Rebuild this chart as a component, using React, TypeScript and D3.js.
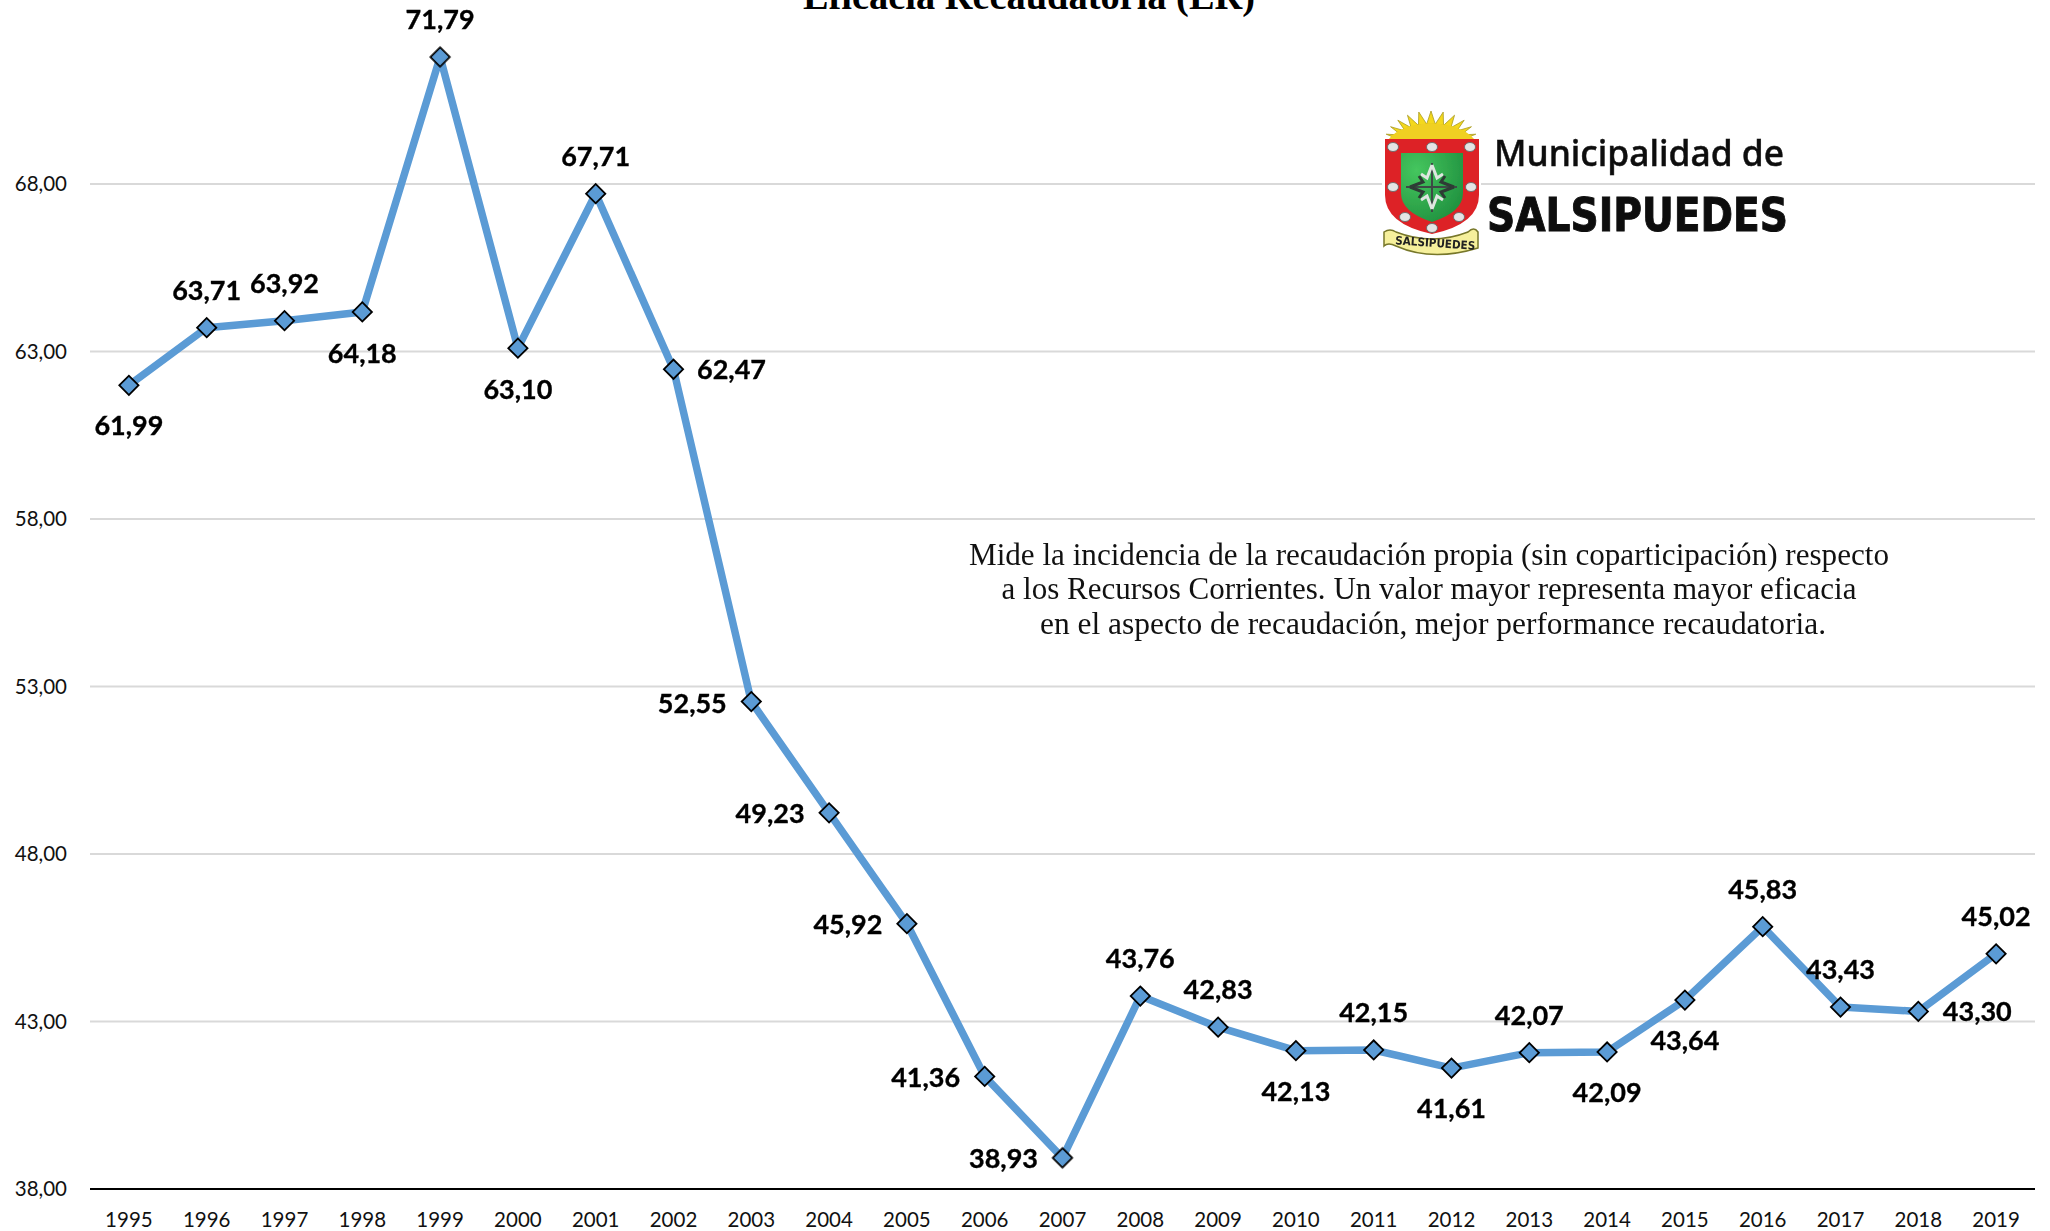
import React from "react";
import * as d3 from "d3";

const years = ["1995","1996","1997","1998","1999","2000","2001","2002","2003","2004","2005","2006","2007","2008","2009","2010","2011","2012","2013","2014","2015","2016","2017","2018","2019"];
const values = [61.99,63.71,63.92,64.18,71.79,63.10,67.71,62.47,52.55,49.23,45.92,41.36,38.93,43.76,42.83,42.13,42.15,41.61,42.07,42.09,43.64,45.83,43.43,43.30,45.02];
const yTicks = [38,43,48,53,58,63,68];
// data label offsets relative to the point (dx, dy baseline)
const labelOffsets: [number, number][] = [
  [0,50],[0,-28],[0,-28],[0,51],[0,-28],[0,51],[0,-28],[58,10],[-59,11],[-59,10],[-59,10],[-59,11],[-59,10],[0,-28],[0,-28],[0,50],[0,-28],[0,50],[0,-28],[0,50],[0,50],[0,-28],[0,-28],[59,10],[0,-28],
];
const descriptionLines = [
  "Mide la incidencia de la recaudación propia (sin coparticipación) respecto",
  "a los Recursos Corrientes. Un valor mayor representa mayor eficacia",
  "en el aspecto de recaudación, mejor performance recaudatoria.",
];
const descriptionCenters = [1429, 1429, 1433];
const descriptionWidths = [920, 855, 786];
const title = "Eficacia Recaudatoria (ER)";

const fmt = (v: number) => v.toFixed(2).replace(".", ",");

function Logo() {
  const cx = 1431, cy = 141;
  const n = 11;
  const rays = d3.range(n).map((i) => {
    const a = Math.PI * (1.03 + (i + 0.5) * (0.94 / n));
    const w = (0.94 * Math.PI) / n / 2;
    const p = (ang: number, rx: number, ry: number) => `${cx + rx * Math.cos(ang)},${cy + ry * Math.sin(ang)}`;
    return `M${p(a - w, 32, 17)}L${p(a, 46, 30)}L${p(a + w, 32, 17)}Z`;
  });
  const studs: [number, number][] = [[1393,147],[1432,147],[1470,147],[1393,187],[1471,187],[1405,217],[1459,217],[1432,228]];
  const scrolls = [0, 90, 180, 270];
  return (
    <g>
      <defs>
        <filter id="soft" x="-5%" y="-5%" width="110%" height="110%"><feGaussianBlur stdDeviation="0.7" /></filter>
        <radialGradient id="greenGrad" cx="25%" cy="25%" r="90%">
          <stop offset="0%" stopColor="#45c65e" />
          <stop offset="100%" stopColor="#1f8f3e" />
        </radialGradient>
      </defs>
      <rect x={1382} y={108} width={99} height={150} fill="#fff" />
      <g filter="url(#soft)">
        {rays.map((d, i) => <path key={i} d={d} fill="#f4d81c" stroke="#a89a20" strokeWidth={0.8} />)}
        <path d="M1388,140 Q1399,125 1431,123 Q1463,125 1475,140Z" fill="#f0d020" />
        <path d="M1385,139 L1479,139 L1479,195 Q1479,224 1432,234 Q1385,224 1385,195Z" fill="#dd2226" />
        <path d="M1401,153 L1463,153 L1463,193 Q1463,212 1432,222 Q1401,212 1401,193Z" fill="url(#greenGrad)" />
        <path d="M1406,187 L1457,187 M1432,163 L1432,212" stroke="#3c4a44" strokeWidth={2} fill="none" />
        {scrolls.map((r) => (
          <g key={r} transform={`rotate(${r} 1432 187)`}>
            <path d="M1432,165 L1437,178 L1443,174 M1432,165 L1427,178 L1421,174" stroke={r % 180 === 0 ? "#dfe6e0" : "#2d3a34"} strokeWidth={3} fill="none" />
          </g>
        ))}
        {studs.map(([x, y], i) => <ellipse key={i} cx={x} cy={y} rx={5.5} ry={4.5} fill="#e4e4e4" stroke="#666" strokeWidth={0.9} />)}
        <path d="M1384,232 Q1390,228 1396,232 Q1432,246 1468,232 Q1474,226 1478,232 L1478,248 Q1432,262 1396,246 Q1388,242 1384,246Z" fill="#f6f09c" stroke="#77772a" strokeWidth={1.5} />
        <text x={1435} y={247} textAnchor="middle" fontFamily="'DejaVu Sans', sans-serif" fontWeight={700} fontSize={11.5} fill="#222" transform="rotate(4 1435 247)" textLength={80} lengthAdjust="spacingAndGlyphs">SALSIPUEDES</text>
        <text x={1494} y={166} fontFamily="'Noto Sans', sans-serif" fontWeight={500} fontSize={36} fill="#111" stroke="#111" strokeWidth={0.5} textLength={290} lengthAdjust="spacingAndGlyphs">Municipalidad de</text>
        <text x={1487} y={231} fontFamily="'DejaVu Sans', sans-serif" fontWeight={700} fontSize={46.5} fill="#0a0a0a" stroke="#0a0a0a" strokeWidth={1} textLength={301} lengthAdjust="spacingAndGlyphs">SALSIPUEDES</text>
      </g>
    </g>
  );
}

export default function App() {
  const width = 2050, height = 1231;
  const x = d3.scaleBand<string>().domain(years).range([90, 2035]);
  const y = d3.scaleLinear().domain([38, 68]).range([1189, 184]);
  const px = (i: number) => (x(years[i]) as number) + x.bandwidth() / 2;
  const line = d3.line<number>().x((_, i) => px(i)).y((d) => y(d));
  const sans = "Lato, 'Open Sans', sans-serif";
  return (
    <svg width={width} height={height} style={{ position: "absolute", left: 0, top: 0, background: "#fff" }}>
      <text x={1029} y={9} textAnchor="middle" fontFamily="'Liberation Serif', serif" fontWeight={700} fontSize={38.4}>{title}</text>
      {yTicks.filter((t) => t > 38).map((t) => (
        <line key={t} x1={90} x2={2035} y1={y(t)} y2={y(t)} stroke="#d9d9d9" strokeWidth={2} />
      ))}
      <line x1={90} x2={2035} y1={y(38)} y2={y(38)} stroke="#000" strokeWidth={2} />
      {yTicks.map((t) => (
        <text key={t} x={67} y={y(t) + 7} textAnchor="end" fontFamily={sans} fontSize={20.5} fill="#111">{fmt(t)}</text>
      ))}
      {years.map((yr) => (
        <text key={yr} x={(x(yr) as number) + x.bandwidth() / 2} y={1227} textAnchor="middle" fontFamily={sans} fontSize={20.5} fill="#111">{yr}</text>
      ))}
      <Logo />
      <path d={line(values) as string} fill="none" stroke="#5b9bd5" strokeWidth={7.5} strokeLinejoin="round" />
      {values.map((v, i) => (
        <path key={i} d={d3.symbol(d3.symbolSquare, 185)() as string} transform={`translate(${px(i)},${y(v)}) rotate(45)`} fill="#5b9bd5" stroke="#000" strokeWidth={1.8} />
      ))}
      {values.map((v, i) => (
        <text key={i} x={px(i) + labelOffsets[i][0]} y={y(v) + labelOffsets[i][1]} textAnchor="middle" fontFamily={sans} fontWeight={700} fontSize={27} fill="#000" stroke="#000" strokeWidth={0.35}>{fmt(v)}</text>
      ))}
      {descriptionLines.map((l, i) => (
        <text key={i} x={descriptionCenters[i]} y={564.5 + i * 34.6} textAnchor="middle" fontFamily="'Liberation Serif', serif" fontSize={31} fill="#111" textLength={descriptionWidths[i]} lengthAdjust="spacingAndGlyphs">{l}</text>
      ))}
    </svg>
  );
}
